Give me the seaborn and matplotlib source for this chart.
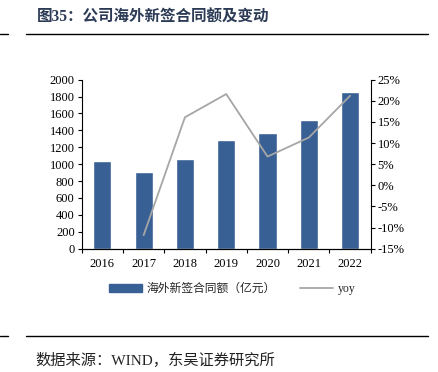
import matplotlib
matplotlib.use("Agg")
import matplotlib.pyplot as plt
import matplotlib.ticker as mticker
from matplotlib.lines import Line2D
from matplotlib.patches import Patch
import numpy as np
import pandas as pd
import seaborn as sns

years = ["2016", "2017", "2018", "2019", "2020", "2021", "2022"]
contracts = [1034, 911, 1058, 1286, 1373, 1527, 1851]
yoy = [np.nan, -11.8, 16.1, 21.6, 6.8, 11.3, 21.2]

bar_color = "#386094"
line_color = "#A6A6A6"
title_color = "#2B3A55"
fams = ["Liberation Serif", "Noto Sans CJK SC"]

sns.set_theme(style="white")
plt.rcParams["font.family"] = fams
plt.rcParams["axes.unicode_minus"] = False

df = pd.DataFrame({"year": years, "contracts": contracts, "yoy": yoy})

fig = plt.figure(figsize=(4.38, 3.72), dpi=100)
ax = fig.add_axes([0.1865, 0.3315, 0.66, 0.4543])

sns.barplot(data=df, x="year", y="contracts", color=bar_color, width=0.44,
            saturation=1, ax=ax)
ax.set_xlim(-0.5, 6.5)
ax.set_ylim(0, 2000)
ax.yaxis.set_major_locator(mticker.MultipleLocator(200))
ax.set(xlabel=None, ylabel=None)

ax2 = ax.twinx()
sns.lineplot(data=df, x=np.arange(len(years)), y="yoy", color=line_color,
             linewidth=1.3, ax=ax2)
ax2.set_ylim(-15, 25)
ax2.yaxis.set_major_locator(mticker.MultipleLocator(5))
ax2.yaxis.set_major_formatter(mticker.FuncFormatter(lambda v, p: f"{v:.0f}%"))
ax2.set(xlabel=None, ylabel=None)
ax.set_xlim(-0.5, 6.5)

for a in (ax, ax2):
    a.spines["top"].set_visible(False)
    a.spines["left"].set_visible(a is ax)
    a.spines["right"].set_visible(a is ax2)
    for s in a.spines.values():
        s.set_color("#000000")
        s.set_linewidth(0.8)

ax.tick_params(axis="y", which="major", direction="out", length=3, width=0.8,
               left=True, labelsize=9, pad=2, colors="black")
ax2.tick_params(axis="y", which="major", direction="out", length=3, width=0.8,
                right=True, labelsize=9, pad=2, colors="black")
ax.xaxis.set_minor_locator(mticker.FixedLocator(np.arange(-0.5, 7, 1)))
ax.tick_params(axis="x", which="major", length=0, labelsize=9, pad=7, colors="black")
ax.tick_params(axis="x", which="minor", direction="out", length=3, width=0.8,
               bottom=True, colors="black")

handles = [Patch(facecolor=bar_color, edgecolor=bar_color),
           Line2D([0], [0], color=line_color, linewidth=1.3)]
labels = ["海外新签合同额（亿元）", "yoy"]
fig.legend(handles, labels, loc="center", bbox_to_anchor=(0.53, 0.223),
           ncol=2, frameon=False, handlelength=2.8,
           handleheight=0.6, columnspacing=2.0, handletextpad=0.4,
           prop={"family": fams, "size": 8.5})

fig.text(0.084, 0.952, "图35：公司海外新签合同额及变动", fontsize=11.2,
         fontweight="bold", color=title_color, va="center", family=fams)
fig.add_artist(Line2D([0.0, 0.018], [0.908, 0.908], color="black", linewidth=1.0))
fig.add_artist(Line2D([0.06, 0.978], [0.908, 0.908], color="black", linewidth=1.0))
fig.add_artist(Line2D([0.0, 0.018], [0.097, 0.097], color="black", linewidth=1.0))
fig.add_artist(Line2D([0.06, 0.978], [0.097, 0.097], color="black", linewidth=1.0))
fig.text(0.082, 0.032, "数据来源：WIND，东吴证券研究所", fontsize=11,
         color="#222222", va="center", family=fams)

plt.savefig("out.png", dpi=100)
